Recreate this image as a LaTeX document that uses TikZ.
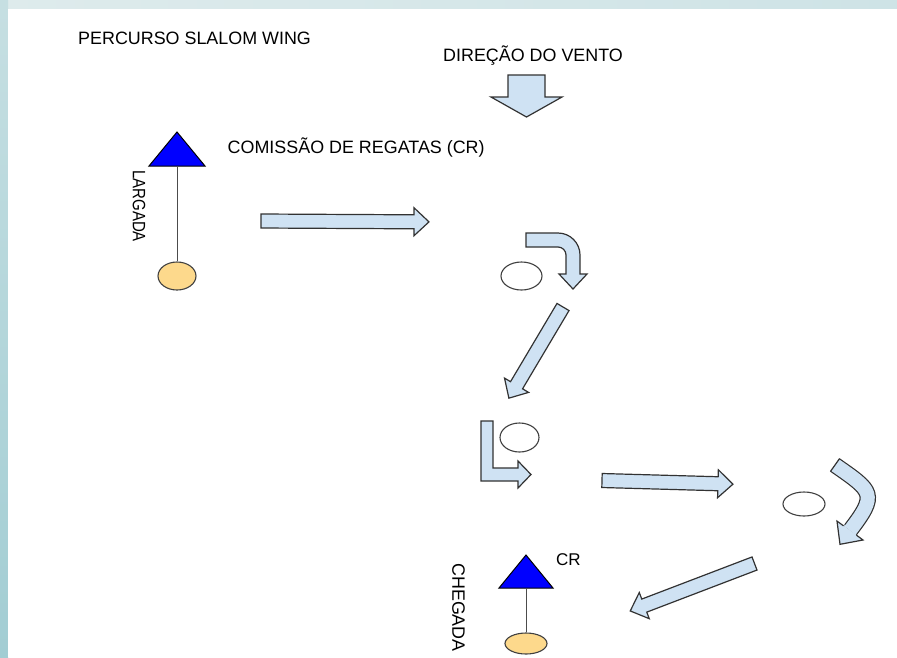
\documentclass[tikz,border=0pt]{standalone}
\usepackage{fontspec}
\setmainfont{Liberation Sans}
\usetikzlibrary{shapes.geometric}
\definecolor{arrfill}{RGB}{207,226,243}
\definecolor{arrdraw}{RGB}{50,50,50}
\definecolor{markfill}{RGB}{253,217,140}
\definecolor{triblue}{RGB}{0,0,255}
\definecolor{bgtopL}{RGB}{222,235,236}
\definecolor{bgtopR}{RGB}{206,227,230}
\definecolor{bgleftT}{RGB}{198,223,226}
\definecolor{bgleftB}{RGB}{162,205,211}
\newcommand\blockarr[3]{%
  \draw[arr, shift={#1}, rotate=#2] (0,-7) -- ({#3-15},-7) -- ({#3-15},-14) -- (#3,0) -- ({#3-15},14) -- ({#3-15},7) -- (0,7) -- cycle;}
\begin{document}
\begin{tikzpicture}[x=1pt,y=1pt,
  arr/.style={fill=arrfill, draw=arrdraw, line width=1.2pt, line join=miter},
  lbl/.style={font=\fontsize{17.9}{20}\selectfont, inner sep=0pt, text=black},
  tri/.style={fill=triblue, draw=black, line width=1pt, line join=miter},
  stem/.style={draw=black!70, line width=1pt},
  buoy/.style={ellipse, draw=black!75, line width=1.1pt, inner sep=0pt, fill=white},
  ybuoy/.style={buoy, fill=markfill}]
\useasboundingbox (0,0) rectangle (897,-657);
% slide background
\fill[left color=bgtopL, right color=bgtopR] (0,0) rectangle (897,-9);
\fill[top color=bgleftT, bottom color=bgleftB] (0,0) rectangle (8,-657);
\fill[white] (8,-9) rectangle (897,-657);

% texts
\node[lbl, anchor=base west] (title) at (78,-44) {PERCURSO SLALOM WING};
\node[lbl, anchor=base west] (wind) at (443,-61) {DIREÇÃO DO VENTO};
\node[lbl, anchor=base west] (cr1) at (227.5,-153.5) {COMISSÃO DE REGATAS (CR)};
\node[lbl, anchor=base west, font=\fontsize{17}{20}\selectfont] (cr2) at (556,-565) {CR};
\node[lbl, rotate=-90, xscale=0.84] (larg) at (139,-206) {LARGADA};
\node[lbl, rotate=-90] (cheg) at (458.5,-607.5) {CHEGADA};

% wind arrow
\draw[arr] (508,-75) -- (545,-75) -- (545,-97) -- (562,-97) -- (526.5,-117) -- (491,-97) -- (508,-97) -- cycle;

% start: committee boat and pin
\draw[tri] (149,-166) -- (177,-132) -- (205,-166) -- cycle;
\coordinate (t1) at (177,-166);
\node[ybuoy, minimum width=38pt, minimum height=28pt] (m1) at (177,-276) {};
\draw[stem] (t1) -- (m1.north);

% finish
\draw[tri] (499,-588) -- (526,-555) -- (553,-588) -- cycle;
\coordinate (t2) at (526,-588);
\node[ybuoy, minimum width=42pt, minimum height=21pt] (m2) at (526,-643.5) {};
\draw[stem] (t2) -- (m2.north);

% marks
\node[buoy, minimum width=41pt, minimum height=28pt] (b1) at (521.5,-276) {};
\node[buoy, minimum width=39pt, minimum height=29pt] (b2) at (519.5,-437.5) {};
\node[buoy, minimum width=42pt, minimum height=24pt] (b3) at (804,-504) {};

% straight arrows
\blockarr{(261,-221)}{-0.3}{168}
\blockarr{(563,-307)}{-120.7}{106}
\blockarr{(602,-480.5)}{-1.6}{131}
\blockarr{(754.5,-563.5)}{-159.1}{133}

% curved arrow 1 (around first mark)
\draw[arr] (526,-233) -- (558,-233) arc[start angle=90, end angle=0, radius=22pt]
  -- (580,-274) -- (587,-274) -- (573,-289) -- (559,-274) -- (566,-274) -- (566,-255)
  arc[start angle=0, end angle=90, radius=8pt] -- (526,-247) -- cycle;

% L-shaped arrow (around second mark)
\draw[arr] (481,-421) -- (493,-421) -- (493,-468) -- (518,-468) -- (518,-461) -- (531,-474.5)
  -- (518,-488) -- (518,-481) -- (481,-481) -- cycle;

% curved arrow 2 (around third mark)
\draw[arrdraw, line width=1.2pt, double=arrfill, double distance=14pt]
  (835,-465) .. controls (873,-491.5) and (878,-494) .. (850,-530.5);
\fill[arrfill] (855.7,-534.8) -- (856.3,-534.0) -- (844.7,-524.4) -- (844.1,-525.3) -- cycle;
\fill[arrfill] (856.5,-535.2) -- (863,-540) -- (840,-544.3) -- (837,-521.1) -- (843.5,-525.8) -- cycle;
\draw[arrdraw, line width=1.2pt, line join=miter] (856.5,-535.2) -- (863,-540) -- (840,-544.3) -- (837,-521.1) -- (843.5,-525.8);
\draw[arrdraw, line width=1.2pt] (830.4,-471.5) -- (839.6,-458.5);
\end{tikzpicture}
\end{document}
